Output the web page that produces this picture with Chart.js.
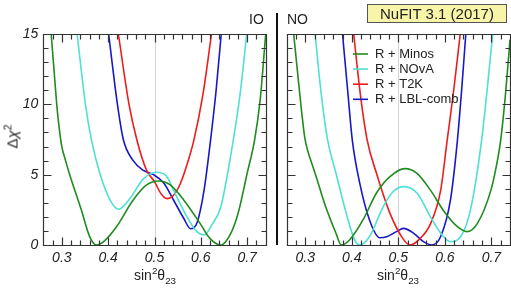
<!DOCTYPE html>
<html>
<head>
<meta charset="utf-8">
<script src="https://cdn.jsdelivr.net/npm/chart.js@4"></script>
<style>
  body { margin: 0; background: #fff; }
  #wrap { position: relative; width: 511px; height: 291px; background: #fff; font-family: "Liberation Sans", Arial, sans-serif; color: #222; }
  canvas { position: absolute; top: 0; }
  .lbl { position: absolute; white-space: nowrap; }
  sup, sub { font-size: 70%; line-height: 0; }
</style>
</head>
<body>
<div id="wrap">
  <canvas id="io" width="276" height="291" style="left:0"></canvas>
  <canvas id="no" width="235" height="291" style="left:276px"></canvas>
  <div class="lbl" style="left:276px;top:13px;width:2px;height:232px;background:#111"></div>
  <div class="lbl" style="left:249px;top:11px;font-size:14px">IO</div>
  <div class="lbl" style="left:287px;top:11px;font-size:14px">NO</div>
  <div class="lbl" style="left:367px;top:4px;width:138px;height:17px;border:1px solid #555;background:#f9f5a8;font-size:15px;line-height:17px;text-align:center">NuFIT 3.1 (2017)</div>
  <div class="lbl" style="left:-8px;top:128px;width:40px;text-align:center;font-size:15px;transform:rotate(-90deg)">&Delta;<i>&chi;</i><sup>2</sup></div>
  <div class="lbl" style="left:115px;top:267px;width:80px;text-align:center;font-size:14px">sin<sup>2</sup>&theta;<sub>23</sub></div>
  <div class="lbl" style="left:358px;top:267px;width:80px;text-align:center;font-size:14px">sin<sup>2</sup>&theta;<sub>23</sub></div>
</div>
<script>
// axis ticks
const xTicks = [0.3, 0.4, 0.5, 0.6, 0.7];
const yTicks = [0, 5, 10, 15];
const seriesNames = ["R + Minos", "R + NOvA", "R + T2K", "R + LBL-comb"];
const seriesColors = ["#1f8c1f", "#4ee0d2", "#ee1c1c", "#1818c8"];

// IO panel
const ioMinosX = [0.277,0.283,0.289,0.294,0.300,0.308,0.317,0.342,0.360,0.375,0.392,0.418,0.454,0.483,0.509,0.534,0.563,0.599,0.620,0.643,0.665,0.680,0.700,0.716,0.728,0.740];
const ioMinosY = [15,12.5,10,8.4,7.0,6.0,5.0,2.5,0.6,0,0.3,1.3,3.2,4.27,4.55,4.27,3.2,1.5,0.45,0,0.85,2.2,5.1,7.46,10.3,15];
const ioNovaX = [0.333,0.351,0.364,0.382,0.404,0.422,0.447,0.476,0.505,0.527,0.541,0.570,0.590,0.607,0.625,0.643,0.670,0.685,0.699];
const ioNovaY = [15,10,7.46,5.1,3.2,2.54,3.3,4.7,5.17,4.86,3.9,2.0,1.0,0.71,1.5,2.7,7.46,10.8,15];
const ioT2kX = [0.422,0.445,0.462,0.483,0.500,0.515,0.527,0.540,0.555,0.570,0.585,0.605,0.623];
const ioT2kY = [15,10,7.46,5.3,4.5,3.6,3.3,3.5,4.3,5.7,7.46,10.8,15];
const ioLblX = [0.401,0.420,0.433,0.454,0.476,0.498,0.520,0.541,0.563,0.578,0.592,0.607,0.621,0.633,0.644];
const ioLblY = [15,10,7.46,6.0,5.3,5.0,4.4,3.2,1.9,1.15,1.6,3.9,7.46,11,15];

// NO panel
const noMinosX = [0.275,0.286,0.293,0.299,0.306,0.314,0.322,0.344,0.366,0.377,0.395,0.424,0.453,0.482,0.514,0.540,0.569,0.598,0.627,0.647,0.670,0.699,0.710,0.720,0.730,0.740];
const noMinosY = [15,11.4,9.2,7.6,6.6,5.8,5.0,2.7,0.83,0,0.36,1.78,3.7,4.86,5.43,5.1,3.9,2.4,1.3,0.95,1.54,3.9,5.5,7.46,10.6,14.6];
const noNovaX = [0.321,0.334,0.348,0.366,0.388,0.406,0.417,0.438,0.467,0.489,0.512,0.540,0.569,0.594,0.612,0.634,0.655,0.679,0.703];
const noNovaY = [15,10.8,7.46,5.1,2.25,0.36,0,0.6,2.7,3.8,4.15,3.7,2.0,0.71,0.24,0.6,2.5,7.46,15];
const noT2kX = [0.404,0.418,0.433,0.453,0.482,0.511,0.525,0.545,0.569,0.591,0.605,0.619,0.633];
const noT2kY = [15,10.8,7.46,5.1,2.25,0.4,0,0.4,1.5,3.9,7.46,11,15];
const noLblX = [0.380,0.391,0.401,0.417,0.438,0.460,0.475,0.496,0.511,0.533,0.554,0.572,0.591,0.612,0.627,0.636,0.645];
const noLblY = [15,11,7.46,4.4,1.78,0.52,0.59,0.95,1.18,0.83,0.24,0,0.6,3.2,7.46,11,15];

function pts(xs, ys) {
  return xs.map((x, i) => ({x: x, y: ys[i]}));
}

function makeSets(list) {
  return list.map((d, i) => ({
    label: seriesNames[i],
    data: pts(d[0], d[1]),
    borderColor: seriesColors[i],
    borderWidth: 1.6,
    pointRadius: 0,
    fill: false,
    cubicInterpolationMode: "monotone",
    clip: 1
  }));
}

// frame, inner ticks and the grey line at 0.5
const decor = {
  id: "decor",
  beforeDatasetsDraw(chart) {
    const c = chart.ctx, a = chart.chartArea;
    const px = Math.round(chart.scales.x.getPixelForValue(0.5)) + 0.5;
    c.save();
    c.strokeStyle = "#d4d4d4";
    c.lineWidth = 1;
    c.beginPath();
    c.moveTo(px, a.top);
    c.lineTo(px, a.bottom);
    c.stroke();
    c.restore();
  },
  afterDatasetsDraw(chart) {
    const c = chart.ctx, a = chart.chartArea;
    const xs = chart.scales.x, ys = chart.scales.y;
    const L = Math.round(a.left) + 0.5, R = Math.round(a.right) + 0.5;
    const T = Math.round(a.top) + 0.5, B = Math.round(a.bottom) + 0.5;
    c.save();
    c.strokeStyle = "#333";
    c.lineWidth = 1.2;
    c.beginPath();
    for (let k = 13; k <= 37; k++) {
      const p = Math.round(xs.getPixelForValue(k / 50)) + 0.5;
      const len = k % 5 === 0 ? 8 : 5;
      c.moveTo(p, B); c.lineTo(p, B - len);
      c.moveTo(p, T); c.lineTo(p, T + len);
    }
    for (let v = 0; v <= 15; v++) {
      const p = Math.round(ys.getPixelForValue(v)) + 0.5;
      const len = v % 5 === 0 ? 8 : 5;
      c.moveTo(L, p); c.lineTo(L + len, p);
      c.moveTo(R, p); c.lineTo(R - len, p);
    }
    c.moveTo(L, T); c.lineTo(R, T); c.lineTo(R, B); c.lineTo(L, B); c.closePath();
    c.stroke();
    c.restore();
  }
};

const legendBox = {
  id: "legendBox",
  afterDraw(chart) {
    if (!chart.options.plugins.legendBox.show) return;
    const c = chart.ctx;
    c.save();
    c.font = "13px 'Liberation Sans', Arial, sans-serif";
    c.textBaseline = "middle";
    chart.data.datasets.forEach((ds, i) => {
      const y = 54 + i * 15.1;
      c.strokeStyle = ds.borderColor;
      c.lineWidth = 1.6;
      c.beginPath();
      c.moveTo(77, y); c.lineTo(92, y);
      c.stroke();
      c.fillStyle = "#222";
      c.fillText(ds.label, 99, y + 0.5);
    });
    c.restore();
  }
};

function options(yWidth, padRight, showY, showLegend) {
  return {
    responsive: false,
    animation: false,
    layout: { padding: { left: 0, top: 34, right: padRight, bottom: 0 } },
    plugins: { legend: { display: false }, tooltip: { enabled: false }, legendBox: { show: showLegend } },
    scales: {
      x: {
        type: "linear", min: 0.26, max: 0.74,
        grid: { display: false, drawTicks: false }, border: { display: false },
        afterBuildTicks: s => { s.ticks = xTicks.map(v => ({value: v})); },
        afterFit: s => { s.height = 46; },
        ticks: {
          padding: 5, color: "#222", maxRotation: 0,
          font: { family: "'Liberation Sans', Arial, sans-serif", size: 14, style: "italic" },
          callback: v => v.toFixed(1)
        }
      },
      y: {
        type: "linear", min: 0, max: 15,
        grid: { display: false, drawTicks: false }, border: { display: false },
        afterBuildTicks: s => { s.ticks = yTicks.map(v => ({value: v})); },
        afterFit: s => { s.width = yWidth; },
        ticks: {
          display: showY, padding: 5, color: "#222",
          font: { family: "'Liberation Sans', Arial, sans-serif", size: 14, style: "italic" },
          callback: v => String(v)
        }
      }
    }
  };
}

new Chart(document.getElementById("io"), {
  type: "line",
  data: { datasets: makeSets([[ioMinosX, ioMinosY], [ioNovaX, ioNovaY], [ioT2kX, ioT2kY], [ioLblX, ioLblY]]) },
  options: options(43.3, 10.3, true, false),
  plugins: [decor, legendBox]
});

new Chart(document.getElementById("no"), {
  type: "line",
  data: { datasets: makeSets([[noMinosX, noMinosY], [noNovaX, noNovaY], [noT2kX, noT2kY], [noLblX, noLblY]]) },
  options: options(10.7, 1, false, true),
  plugins: [decor, legendBox]
});
</script>
</body>
</html>
